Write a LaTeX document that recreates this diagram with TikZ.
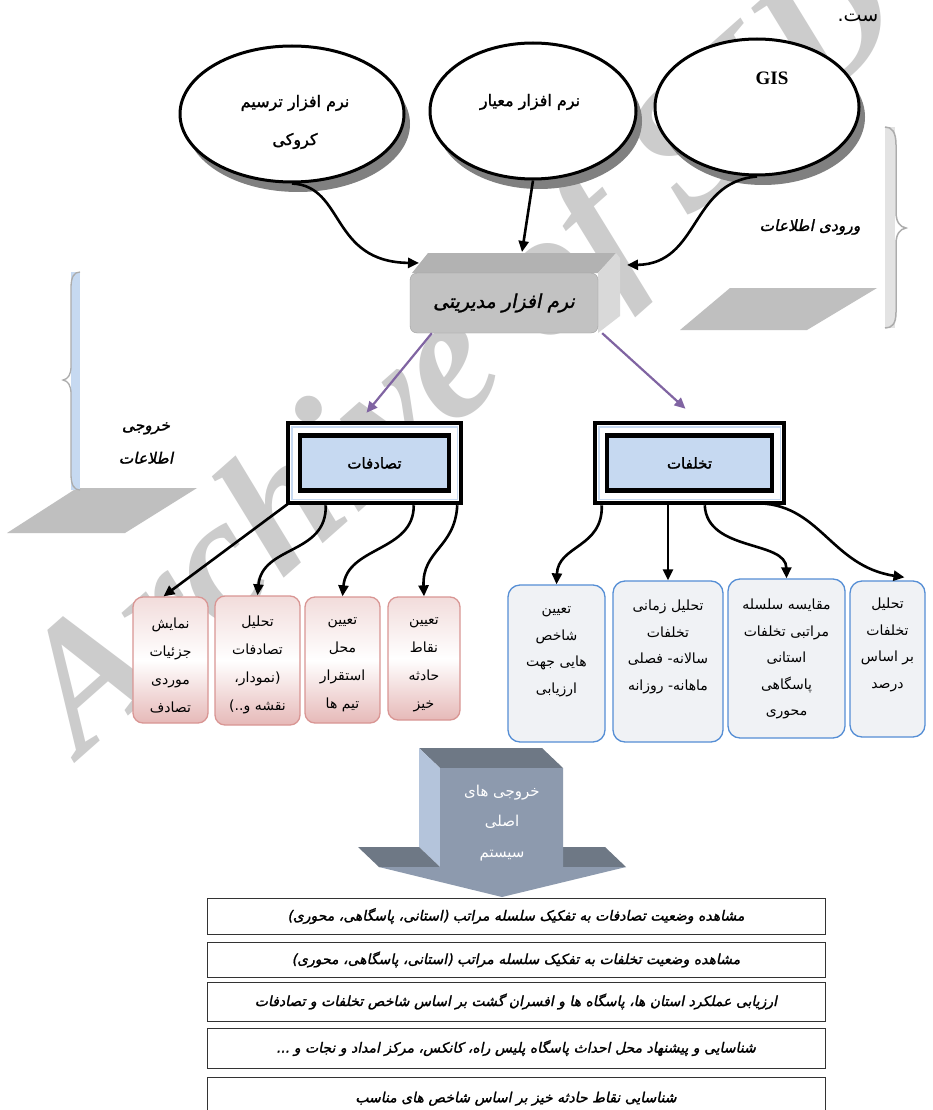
\documentclass[tikz,border=0pt]{standalone}
\usepackage{fontspec}
\usetikzlibrary{arrows.meta,shapes.geometric,calc,backgrounds}
\TeXXeTstate=1
\newfontfamily\fa[Script=Arabic]{DejaVu Sans}
\newfontfamily\fab[Script=Arabic,FakeBold=1.5]{DejaVu Sans}
\newfontfamily\fabi[Script=Arabic,FakeBold=1.5,FakeSlant=0.2]{DejaVu Sans}
\newfontfamily\wmfont{Liberation Serif}
\newcommand\rt[1]{\beginR #1\endR}
\definecolor{blueL}{HTML}{C6D9F1}
\definecolor{pinkT}{HTML}{F2DCDB}
\definecolor{pinkB}{HTML}{E6B9B8}
\definecolor{pinkD}{HTML}{D99694}
\definecolor{bluebd}{HTML}{558ED5}
\definecolor{bluefill}{HTML}{F0F2F5}
\definecolor{olsh}{HTML}{B5B89E}
\definecolor{purp}{HTML}{8064A2}
\definecolor{arrF}{HTML}{8D9AAE}
\definecolor{arrS}{HTML}{B4C4DB}
\definecolor{arrT}{HTML}{6E7885}
\begin{document}
\begin{tikzpicture}[x=1pt,y=-1pt,
  ell/.style={ellipse, draw=black, line width=3pt, fill=white, inner sep=0pt},
  ellsh/.style={ellipse, fill=gray, inner sep=0pt},
  arr/.style={line width=2.6pt, -{Triangle[length=11pt,width=10pt]}},
  parr/.style={draw=purp, line width=2.2pt, -{Triangle[length=11pt,width=10pt]}},
  pinkbox/.style={draw=pinkD, line width=1.3pt, rounded corners=10pt, top color=pinkT, bottom color=pinkB, middle color=white, inner sep=0pt},
  bluebox/.style={draw=bluebd, line width=1.3pt, rounded corners=12pt, fill=bluefill, inner sep=0pt},
  rowbox/.style={draw=black!80, line width=1pt, inner sep=0pt, font=\fabi\fontsize{14}{16}\selectfont},
  btxt/.style={align=center, inner sep=0pt, font=\fa\fontsize{14}{28}\selectfont},
  bltxt/.style={align=center, inner sep=0pt, font=\fa\fontsize{14}{26.5}\selectfont},
  outerbox/.style={draw=black, line width=4.5pt, fill=white, inner sep=0pt},
  innerbox/.style={draw=black, line width=4.5pt, fill=blueL, inner sep=0pt, font=\fab\fontsize{15}{18}\selectfont},
  lbl/.style={inner sep=0pt, font=\fabi\fontsize{15.5}{33}\selectfont, align=center}
]
\useasboundingbox (0,0) rectangle (932,1110);
\fill[white] (0,0) rectangle (932,1110);

% watermark
\node[rotate=41.5, text=gray!40, font=\wmfont\bfseries\itshape\fontsize{178}{178}\selectfont, inner sep=0pt] (wm) at (467,358) {Archive of SID};

% partial text top right
\node[inner sep=0pt, font=\fa\fontsize{19}{20}\selectfont] (top) at (858,18) {\rt{ست.}};

% ellipses with shadows
\node[ellsh, minimum width=224pt, minimum height=136pt] at (298,124) {};
\node[ellsh, minimum width=206pt, minimum height=136pt] at (539,121) {};
\node[ellsh, minimum width=204pt, minimum height=136pt] at (763,117) {};
\node[ell, minimum width=224pt, minimum height=136pt] (e1) at (292,114) {};
\node[ell, minimum width=206pt, minimum height=136pt] (e2) at (533,111) {};
\node[ell, minimum width=204pt, minimum height=136pt] (e3) at (757,107) {};
\node[inner sep=0pt, align=center, font=\fab\fontsize{16}{38}\selectfont] (e1t) at (295,122) {\rt{نرم افزار ترسیم}\\\rt{کروکی}};
\node[inner sep=0pt, font=\fab\fontsize{16}{18}\selectfont] (e2t) at (530,102) {\rt{نرم افزار معیار}};
\node[inner sep=0pt, font=\wmfont\bfseries\fontsize{19}{20}\selectfont] (e3t) at (772,78) {GIS};

% management box
\fill[gray!60] (412,273) -- (428,253) -- (616,253) -- (598,273) -- cycle;
\fill[gray!30] (598,273) -- (616,253) -- (620,258) -- (620,316) -- (598,333) -- cycle;
\node[draw=gray!75, fill=gray!48, rounded corners=7pt, minimum width=188pt, minimum height=60pt, inner sep=0pt, font=\fabi\fontsize{19}{22}\selectfont] (mg) at (504,303) {\rt{نرم افزار مدیریتی}};
\coordinate (mgL) at (419,263);
\coordinate (mgT) at (522,252);
\coordinate (mgR) at (627,265);

\draw[arr] (e1.south) .. controls (345,186) and (330,262) .. (mgL);
\draw[arr] (e2.south) -- (mgT);
\draw[arr] (e3.south) .. controls (690,182) and (700,264) .. (mgR);

% braces and plates
\fill[gray!50] (730,288) -- (877,288) -- (807,330) -- (680,330) -- cycle;
\fill[gray!22] (885,127) rectangle (895,328);
\draw[gray!65, line width=1.5pt] (885,127) .. controls (892,127) and (896,132) .. (896,145) -- (896,212) .. controls (896,222) and (900,227) .. (906,228) .. controls (900,229) and (896,234) .. (896,244) -- (896,312) .. controls (896,324) and (892,328) .. (885,328);
\node[lbl] (inlbl) at (810,227) {\rt{ورودی اطلاعات}};

\fill[gray!50] (77,488) -- (197,488) -- (125,533) -- (7,533) -- cycle;
\fill[blueL] (71,272) rectangle (80,490);
\draw[gray!65, line width=1.3pt] (80,272) .. controls (74,272) and (71,277) .. (71,288) -- (71,366) .. controls (71,375) and (68,379) .. (63,380) .. controls (68,381) and (71,385) .. (71,394) -- (71,474) .. controls (71,485) and (74,490) .. (80,490);
\node[lbl] (outlbl) at (146,443) {\rt{خروجی}\\\rt{اطلاعات}};

% double boxes
\node[outerbox, minimum width=173pt, minimum height=80pt] (tas) at (374.5,463) {};
\draw[blueL, line width=1.5pt] ($(tas.north west)+(6,6)$) rectangle ($(tas.south east)+(-6,-6)$);
\node[innerbox, minimum width=149pt, minimum height=55pt] (tasi) at (374.5,463) {\rt{تصادفات}};
\node[outerbox, minimum width=189pt, minimum height=80pt] (tak) at (689.5,463) {};
\draw[blueL, line width=1.5pt] ($(tak.north west)+(6,6)$) rectangle ($(tak.south east)+(-6,-6)$);
\node[innerbox, minimum width=165pt, minimum height=55pt] (taki) at (689.5,463) {\rt{تخلفات}};

\draw[parr] ($(mg.south west)+(22,0)$) -- ($(tas.north)+(-8,-8)$);
\draw[parr] ($(mg.south east)+(4,0)$) -- ($(tak.north)+(-4,-12)$);

% pink boxes
\node[pinkbox, minimum width=75pt, minimum height=126pt] (p1) at (170.5,660) {};
\node[pinkbox, minimum width=85pt, minimum height=129pt] (p2) at (257.5,660.5) {};
\node[pinkbox, minimum width=75pt, minimum height=126pt] (p3) at (342.5,660) {};
\node[pinkbox, minimum width=72pt, minimum height=123pt] (p4) at (424,658.5) {};
\node[btxt] (p1t) at (170.5,665) {\rt{نمایش}\\\rt{جزئیات}\\\rt{موردی}\\\rt{تصادف}};
\node[btxt] (p2t) at (257.5,665) {\rt{تحلیل}\\\rt{تصادفات}\\\rt{(نمودار،}\\\rt{نقشه و..)}};
\node[btxt] (p3t) at (342.5,665) {\rt{تعیین}\\\rt{محل}\\\rt{استقرار}\\\rt{تیم ها}};
\node[btxt] (p4t) at (424,665) {\rt{تعیین}\\\rt{نقاط}\\\rt{حادثه}\\\rt{خیز}};

% blue boxes
\node[bluebox, minimum width=97pt, minimum height=157pt] (t1) at (556.5,663.5) {};
\node[bluebox, minimum width=110pt, minimum height=161pt] (t2) at (668,661.5) {};
\node[bluebox, minimum width=117pt, minimum height=159pt] (t3) at (786.5,658.5) {};
\node[bluebox, minimum width=75pt, minimum height=156pt] (t4) at (887.5,659) {};
\node[bltxt] (t1t) at (556.5,652) {\rt{تعیین}\\\rt{شاخص}\\\rt{هایی جهت}\\\rt{ارزیابی}};
\node[bltxt] (t2t) at (668,647) {\rt{تحلیل زمانی}\\\rt{تخلفات}\\\rt{سالانه- فصلی}\\\rt{ماهانه- روزانه}};
\node[bltxt] (t3t) at (786.5,659) {\rt{مقایسه سلسله}\\\rt{مراتبی تخلفات}\\\rt{استانی}\\\rt{پاسگاهی}\\\rt{محوری}};
\node[bltxt] (t4t) at (887.5,645) {\rt{تحلیل}\\\rt{تخلفات}\\\rt{بر اساس}\\\rt{درصد}};

\begin{scope}[on background layer]
\foreach \b in {p1,p2,p3,p4}{\fill[gray!45, rounded corners=10pt] ($(\b.south west)+(3,3)$) rectangle ($(\b.north east)+(3,3)$);}
\foreach \b in {t1,t2,t3,t4}{\fill[olsh, rounded corners=12pt] ($(\b.south west)+(3,4)$) rectangle ($(\b.north east)+(3,4)$);}
\end{scope}

% connectors from tasadofat
\draw[arr] ($(tas.south west)+(3,-2)$) -- ($(p1.north)+(-7,0)$);
\draw[arr] ($(tas.south west)+(40,0)$) .. controls (327,555) and (262,545) .. (p2.north);
\draw[arr] ($(tas.south west)+(128,0)$) .. controls (414,552) and (347,546) .. (p3.north);
\draw[arr] ($(tas.south east)+(-6,0)$) .. controls (455,548) and (422,550) .. (p4.north);

% connectors from takhalofat
\draw[arr] ($(tak.south west)+(9,0)$) .. controls (603,548) and (558,545) .. (t1.north);
\draw[arr] (tak.south -| t2.north) -- (t2.north);
\draw[arr] ($(tak.south west)+(112,0)$) .. controls (707,552) and (786,540) .. (t3.north);
\draw[arr] ($(tak.south east)+(-32,-2)$) .. controls (820,502) and (830,566) .. ($(t4.north)+(17,-3)$);

% big 3D arrow
\fill[arrT] (419,748) -- (542,748) -- (563,768) -- (440,768) -- cycle;
\fill[arrS] (419,748) -- (440,768) -- (440,867) -- (419,847) -- cycle;
\fill[arrT] (358,847) -- (419,847) -- (440,867) -- (379,867) -- cycle;
\fill[arrT] (542,847) -- (605,847) -- (626,867) -- (563,867) -- cycle;
\fill[arrF] (440,768) -- (563,768) -- (563,867) -- (626,867) -- (502,897) -- (379,867) -- (440,867) -- cycle;
\node[inner sep=0pt, align=center, text=white, font=\fa\fontsize{15}{30.5}\selectfont] (outsys) at (502,823) {\rt{خروجی های}\\\rt{اصلی}\\\rt{سیستم}};

% rows
\node[rowbox, minimum width=618pt, minimum height=36pt] (r1) at (516,916) {\rt{مشاهده وضعیت تصادفات به تفکیک سلسله مراتب (استانی، پاسگاهی، محوری)}};
\node[rowbox, minimum width=618pt, minimum height=35pt] (r2) at (516,959.5) {\rt{مشاهده وضعیت تخلفات به تفکیک سلسله مراتب (استانی، پاسگاهی، محوری)}};
\node[rowbox, minimum width=618pt, minimum height=39pt] (r3) at (516,1001.5) {\rt{ارزیابی عملکرد استان ها، پاسگاه ها و افسران گشت بر اساس شاخص تخلفات و تصادفات}};
\node[rowbox, minimum width=618pt, minimum height=40pt] (r4) at (516,1048) {\rt{شناسایی و پیشنهاد محل احداث پاسگاه پلیس راه، کانکس، مرکز امداد و نجات و ...}};
\node[rowbox, minimum width=618pt, minimum height=40pt, text depth=0pt] (r5) at (516,1097) {\rt{شناسایی نقاط حادثه خیز بر اساس شاخص های مناسب}};
\end{tikzpicture}
\end{document}
